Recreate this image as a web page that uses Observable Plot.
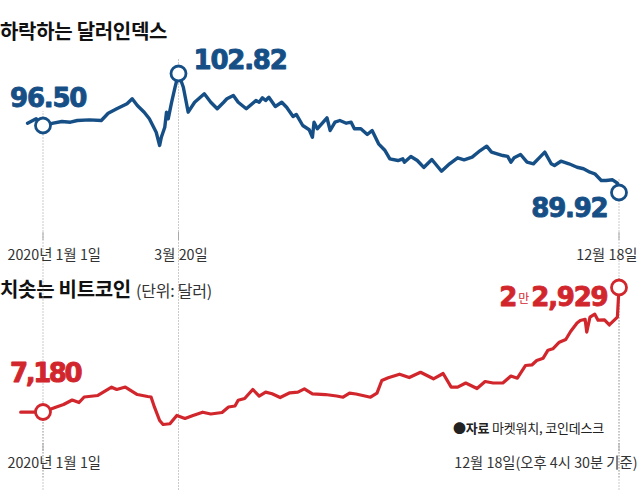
<!DOCTYPE html>
<html><head><meta charset="utf-8">
<script src="https://cdn.jsdelivr.net/npm/d3@7"></script>
<script src="https://cdn.jsdelivr.net/npm/@observablehq/plot@0.6"></script>
<style>
body{margin:0;background:#fff;}
#wrap{position:relative;width:640px;height:490px;overflow:hidden;font-family:"Noto Sans CJK KR",sans-serif;background:#fff;}
.title{position:absolute;left:0;font-weight:700;font-size:20px;letter-spacing:-0.3px;color:#111;white-space:nowrap;line-height:1;}
.title span{font-weight:400;font-size:16px;letter-spacing:-0.2px;color:#333;margin-left:5px;}
.src{position:absolute;left:453px;top:421px;font-size:13px;line-height:1;color:#222;white-space:nowrap;letter-spacing:-0.2px;}
.src b{font-weight:700;}
.panel{position:absolute;left:0;}
</style></head>
<body>
<div id="wrap">
  <div class="title" id="t1" style="top:21px"></div>
  <div class="title" id="t2" style="top:279px"></div>
  <div class="src" id="src"></div>
  <div class="panel" id="p1" style="top:0px"></div>
  <div class="panel" id="p2" style="top:265px"></div>
</div>
<script>
// ---------- DATA ----------
const title1 = "하락하는 달러인덱스";
const title2 = "치솟는 비트코인";
const unit2 = "(단위: 달러)";
const sourceBold = "●자료";
const sourceText = "마켓워치, 코인데스크";

// Dollar index: days offset from 2020-01-01, values
const dxyDays = [-9,-4,0,6,11,16,20,27,34,38,43,49,52,55,59,62,64,66,68,69,70,71,72,73,75,77,79,82,85,89,95,99,103,107,109,113,116,121,127,129,131,133,135,139,143,146,150,152,156,160,162,163,165,171,173,176,179,183,186,188,192,196,199,203,207,210,215,218,219,223,227,231,236,242,247,252,256,261,266,270,273,280,283,285,287,291,295,299,303,306,310,312,316,321,326,330,334,337,341,344,348,351,352];
const dxyValues = [96.78,97.31,96.50,96.78,96.99,96.90,97.11,97.19,97.11,97.99,98.53,99.14,99.75,98.93,98.12,97.31,96.50,95.84,94.54,95.35,95.84,96.33,98.12,97.31,99.33,101.15,102.82,101.15,98.12,99.33,100.35,99.33,98.53,99.33,99.75,100.15,99.33,98.53,99.54,99.33,99.87,99.54,99.94,98.81,99.33,98.72,97.59,97.84,96.50,96.08,95.35,96.90,96.18,97.44,96.01,96.90,97.11,96.78,96.90,96.18,96.18,95.62,96.01,94.70,94.04,93.23,93.06,93.23,92.90,93.46,93.06,92.38,93.16,92.01,92.74,93.33,93.13,93.39,94.04,94.47,93.88,93.55,93.46,92.90,93.33,93.65,92.90,92.74,93.39,93.88,92.74,92.57,92.99,92.74,92.40,92.25,91.91,91.76,91.10,91.10,91.17,90.83,89.92];
const dxyMarkDays = [0, 79, 352];
const dxyMarkValues = [96.50, 102.82, 89.92];
const dxyMarkLabels = ["96.50", "102.82", "89.92"];
const dxyTickLabels = ["2020년 1월 1일", "3월 20일", "12월 18일"];

// Bitcoin (USD)
const btcDays = [-13,-4,0,7,12,17,21,24,32,40,43,48,55,61,63,65,68,70,74,78,83,88,94,99,106,110,114,116,120,125,129,133,137,142,148,153,157,162,170,177,181,185,189,198,202,205,209,216,222,229,237,243,248,252,257,264,269,274,280,285,289,294,298,301,305,308,311,315,319,322,326,328,331,332,334,337,339,343,346,351,352];
const btcValues = [7155,7155,7180,7750,8130,8700,8380,9080,9270,10320,10030,10340,9390,9140,9080,7790,6100,5600,5690,6740,6360,6740,7155,6930,7120,7810,7940,8670,8890,10030,9200,9690,9480,9010,9610,9690,10110,9480,9390,9200,9050,9560,9460,9050,9560,11160,11510,11960,11540,12210,11380,12050,10320,10320,10850,10150,11040,10850,10850,11730,11460,13060,13130,13700,13990,15000,15180,16010,16350,17360,18440,18750,18910,17280,19170,19550,18790,18840,18190,19170,22929];
const btcMarkDays = [0, 352];
const btcMarkValues = [7180, 22929];
const btcMarkLabels = ["7,180", "2만2,929"];
const btcTickLabels = ["2020년 1월 1일", "12월 18일(오후 4시 30분 기준)"];

// ---------- STYLE ----------
const BLUE = "#164f86", RED = "#d2262d", GRAY = "#a9a9a9", TXT = "#333";
const KFONT = '"Noto Sans CJK KR", sans-serif';
const NFONT = '"DejaVu Sans", sans-serif';
const day0 = Date.UTC(2020, 0, 1);
const toDate = d => new Date(day0 + d * 864e5);
const xScale = {type: "utc", domain: [0, 79, 352].map(toDate), range: [42.5, 178, 618.5], axis: null};

document.getElementById("t1").textContent = title1;
document.getElementById("t2").append(title2);
const u = document.createElement("span"); u.textContent = unit2; document.getElementById("t2").append(u);
const srcEl = document.getElementById("src");
const b = document.createElement("b"); b.textContent = sourceBold; srcEl.append(b, " " + sourceText);

const dxy = dxyDays.map((d, i) => ({date: toDate(d), value: dxyValues[i]}));
const dxyMarks = dxyMarkDays.map((d, i) => ({date: toDate(d), value: dxyMarkValues[i], label: dxyMarkLabels[i], tick: dxyTickLabels[i]}));
const btc = btcDays.map((d, i) => ({date: toDate(d), value: btcValues[i]}));
const btcMarks = btcMarkDays.map((d, i) => ({date: toDate(d), value: btcMarkValues[i], label: btcMarkLabels[i], tick: btcTickLabels[i]}));

function valueLabel(d, color, anchor, dx, dy) {
  return Plot.text([d], {x: "date", y: "value", text: "label", textAnchor: anchor, lineAnchor: "bottom", dx, dy,
    fill: color, stroke: color, strokeWidth: 0.9, fontSize: 26, fontWeight: "bold", fontFamily: NFONT});
}
function tickLabel(d, anchor, dx, dy) {
  return Plot.text([d], {x: "date", text: "tick", frameAnchor: "bottom", textAnchor: anchor, lineAnchor: "bottom", dx, dy,
    fill: TXT, fontSize: 14.3, fontFamily: KFONT});
}

// ---------- TOP PANEL ----------
const chartTop = Plot.plot({
  width: 640, height: 265, marginTop: 0, marginBottom: 25, marginLeft: 0, marginRight: 0,
  style: {background: "transparent", overflow: "visible"},
  x: xScale,
  y: {type: "linear", domain: [89.92, 96.50, 102.82], range: [192, 125, 73], axis: null},
  marks: [
    Plot.ruleX(dxyMarks, {x: "date", y1: "value", insetTop: 9, insetBottom: 14, stroke: GRAY, strokeWidth: 1, strokeDasharray: "1.2,1.8"}),
    Plot.ruleX(dxyMarks, {x: "date", insetTop: 232, stroke: GRAY, strokeWidth: 1}),
    Plot.line(dxy, {x: "date", y: "value", stroke: BLUE, strokeWidth: 3.4, strokeLinejoin: "round", strokeLinecap: "round"}),
    Plot.dot(dxyMarks, {x: "date", y: "value", r: 7.5, fill: "white", stroke: BLUE, strokeWidth: 2.8}),
    valueLabel(dxyMarks[0], BLUE, "start", -33, -19),
    valueLabel(dxyMarks[1], BLUE, "start", 15, -5),
    valueLabel(dxyMarks[2], BLUE, "end", -11.5, 24),
    tickLabel(dxyMarks[0], "start", -35.5, 19),
    tickLabel(dxyMarks[1], "middle", 2.5, 19),
    tickLabel(dxyMarks[2], "end", 18.5, 19)
  ]
});
document.getElementById("p1").append(chartTop);

// ---------- BOTTOM PANEL ----------
const OFF = 265;
const chartBottom = Plot.plot({
  width: 640, height: 225, marginTop: 0, marginBottom: 39, marginLeft: 0, marginRight: 0,
  style: {background: "transparent", overflow: "visible"},
  x: xScale,
  y: {type: "linear", domain: [7180, 22929], range: [411.5 - OFF, 287 - OFF], axis: null},
  marks: [
    Plot.ruleX(btcMarks, {x: "date", y1: "value", insetTop: 9, insetBottom: 10, stroke: GRAY, strokeWidth: 1, strokeDasharray: "1.2,1.8"}),
    Plot.ruleX(btcMarks, {x: "date", insetTop: 178, stroke: GRAY, strokeWidth: 1}),
    Plot.line(btc, {x: "date", y: "value", stroke: RED, strokeWidth: 3.2, strokeLinejoin: "round", strokeLinecap: "round"}),
    Plot.dot(btcMarks, {x: "date", y: "value", r: 7.5, fill: "white", stroke: RED, strokeWidth: 2.8}),
    valueLabel(btcMarks[0], RED, "start", -33, -30),
    valueLabel(btcMarks[1], RED, "end", -11.5, 18),
    tickLabel(btcMarks[0], "start", -35.5, 16),
    tickLabel(btcMarks[1], "end", 18.5, 16)
  ]
});
document.getElementById("p2").append(chartBottom);

// tighten value labels; small "만"
const allLabels = dxyMarkLabels.concat(btcMarkLabels);
d3.selectAll("#wrap svg text").filter(function () { return allLabels.includes(this.textContent); })
  .attr("letter-spacing", function () { return this.textContent === btcMarkLabels[0] ? "-2.4px" : "-1.2px"; });
d3.selectAll("#wrap svg text").filter(function () { return this.textContent === btcMarkLabels[1]; }).each(function () {
  const s = this.textContent, k = s.indexOf("만");
  const t = d3.select(this); t.text(null);
  t.append("tspan").text(s.slice(0, k));
  t.append("tspan").attr("font-size", 12).attr("font-weight", 400).attr("font-family", KFONT)
    .attr("stroke-width", 0).attr("letter-spacing", "0").attr("dx", 2).attr("dy", -3).text("만");
  t.append("tspan").attr("dx", 2).attr("dy", 3).attr("stroke-width", 0.9).text(s.slice(k + 1));
});
</script>
</body></html>
